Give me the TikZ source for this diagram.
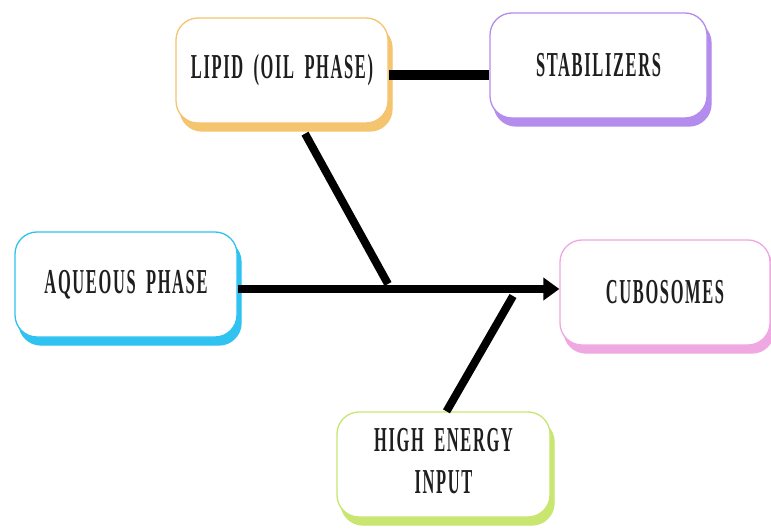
\documentclass[tikz,border=0pt]{standalone}
\usepackage{fontspec}
\setmainfont{Liberation Serif}
\newfontfamily\boxfont[LetterSpace=10,WordSpace=1.8]{Liberation Serif}
\usetikzlibrary{arrows.meta,shadows}
\definecolor{clipid}{HTML}{F5C46E}
\definecolor{cstab}{HTML}{B48CEE}
\definecolor{caq}{HTML}{30C2F0}
\definecolor{ccubo}{HTML}{F0A8E2}
\definecolor{chigh}{HTML}{C8E670}
\definecolor{ctext}{HTML}{1E1E1E}
\newcommand{\boxtxt}[1]{\scalebox{0.47}[1]{#1}}
\tikzset{
  phasebox/.style={draw=#1, fill=white, line width=1.3pt, rounded corners=22pt,
    minimum height=105pt, inner sep=0pt, text=ctext,
    font=\boxfont\fontsize{35}{42}\selectfont\bfseries,
    copy shadow={shadow xshift=4pt, shadow yshift=-8pt, fill=#1, draw=#1}},
  thickline/.style={line width=8pt, draw=black},
}
\begin{document}
\begin{tikzpicture}[x=1pt,y=-1pt]
\useasboundingbox[fill=white] (0,0) rectangle (771,529);
\node[phasebox=clipid, minimum width=212pt] (lipid) at (282,70.5) {\boxtxt{LIPID (OIL PHASE)}};
\node[phasebox=cstab, minimum width=217pt] (stab) at (598.5,65.5) {\boxtxt{STABILIZERS}};
\node[phasebox=caq, minimum width=222pt] (aq) at (126,284.5) {\boxtxt{AQUEOUS PHASE}};
\node[phasebox=ccubo, minimum width=210pt] (cubo) at (665,292.5) {\boxtxt{CUBOSOMES}};
\node[phasebox=chigh, minimum width=213pt] (high) at (443.5,464.5) {\boxtxt{\begin{tabular}{@{}c@{}}HIGH ENERGY\\INPUT\end{tabular}}};
\coordinate (m1) at (388,284);
\coordinate (m2) at (513,296);
\draw[thickline, line width=10pt] (lipid.east |- 0,75) -- (stab.west |- 0,75);
\draw[thickline, -{Triangle[length=16pt,width=22pt]}] (aq.east |- 0,289) -- (cubo.west |- 0,289);
\draw[thickline] ([xshift=23pt,yshift=-10pt]lipid.south) -- (m1);
\draw[thickline] ([xshift=3pt]high.north) -- (m2);
\end{tikzpicture}
\end{document}
